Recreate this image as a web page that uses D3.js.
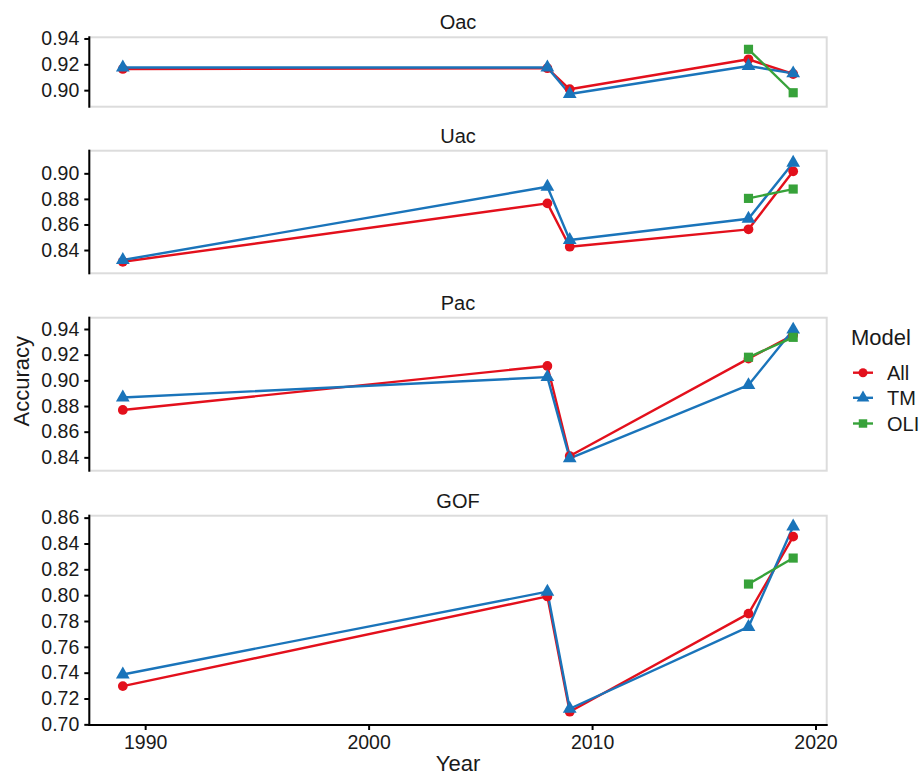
<!DOCTYPE html>
<html>
<head>
<meta charset="utf-8">
<script src="https://cdn.jsdelivr.net/npm/d3@7"></script>
<style>
  html, body { margin: 0; padding: 0; background: #fff; }
  svg { display: block; font-family: "Liberation Sans", Arial, Helvetica, sans-serif; }
</style>
</head>
<body>
<svg id="chart" width="921" height="777"></svg>
<script>
// Observation years shared by all accuracy metrics
const years = [1989, 2008, 2009, 2017, 2019];
const oliYears = [2017, 2019];

// Facet names, top to bottom
const metrics = ["Oac", "Uac", "Pac", "GOF"];

// Accuracy per metric and model
const oacAll = [0.9164, 0.9170, 0.9007, 0.9239, 0.9125];
const oacTM  = [0.9175, 0.9175, 0.8970, 0.9187, 0.9130];
const oacOLI = [0.9316, 0.8980];

const uacAll = [0.8308, 0.8765, 0.8426, 0.8562, 0.9016];
const uacTM  = [0.8322, 0.8895, 0.8478, 0.8645, 0.9083];
const uacOLI = [0.8804, 0.8877];

const pacAll = [0.8769, 0.9112, 0.8410, 0.9169, 0.9353];
const pacTM  = [0.8866, 0.9025, 0.8392, 0.8963, 0.9395];
const pacOLI = [0.9180, 0.9335];

const gofAll = [0.7296, 0.7990, 0.7098, 0.7857, 0.8453];
const gofTM  = [0.7386, 0.8027, 0.7121, 0.7754, 0.8531];
const gofOLI = [0.8086, 0.8287];

// Free y ranges per facet and their tick labels
const yDomains = [[0.8872, 0.9409], [0.8218, 0.9177], [0.8296, 0.9488], [0.6995, 0.8615]];
const yTicks = [
  [0.90, 0.92, 0.94],
  [0.84, 0.86, 0.88, 0.90],
  [0.84, 0.86, 0.88, 0.90, 0.92, 0.94],
  [0.70, 0.72, 0.74, 0.76, 0.78, 0.80, 0.82, 0.84, 0.86]
];
const xDomain = [1987.5, 2020.5];
const xTicks = [1990, 2000, 2010, 2020];

const models = ["All", "TM", "OLI"];
const values = {
  Oac: { All: oacAll, TM: oacTM, OLI: oacOLI },
  Uac: { All: uacAll, TM: uacTM, OLI: uacOLI },
  Pac: { All: pacAll, TM: pacTM, OLI: pacOLI },
  GOF: { All: gofAll, TM: gofTM, OLI: gofOLI }
};

// ---- styling / layout ----
const colors = { All: "#E3101C", TM: "#1A74BA", OLI: "#37A23A" };
const symbols = { All: d3.symbolCircle, TM: d3.symbolTriangle, OLI: d3.symbolSquare };
const symSize = { All: 75, TM: 82, OLI: 84 };
const textColor = "#1a1a1a";

const left = 89.3, right = 826.7;
const panelBox = [[37.3, 106.7], [150.7, 273.3], [317.7, 470.7], [515.7, 725]];

const svg = d3.select("#chart");
const x = d3.scaleLinear().domain(xDomain).range([left, right]);

const line = d3.line();

metrics.forEach((m, i) => {
  const [top, bottom] = panelBox[i];
  const y = d3.scaleLinear().domain(yDomains[i]).range([bottom, top]);
  const g = svg.append("g");

  // panel border
  g.append("rect")
    .attr("x", left).attr("y", top)
    .attr("width", right - left).attr("height", bottom - top)
    .attr("fill", "#fff")
    .attr("stroke", "#DCDCDC").attr("stroke-width", 2);

  // strip label
  g.append("text")
    .attr("x", (left + right) / 2).attr("y", top - 15)
    .attr("text-anchor", "middle").attr("dominant-baseline", "central")
    .attr("font-size", 20).attr("fill", textColor)
    .text(m);

  // series
  const series = models.map(mod => {
    const ys = values[m][mod];
    const xs = mod === "OLI" ? oliYears : years;
    return { mod, pts: xs.map((yr, k) => [yr, ys[k]]) };
  });

  series.forEach(s => {
    g.append("path")
      .attr("d", line(s.pts.map(p => [x(p[0]), y(p[1])])))
      .attr("fill", "none")
      .attr("stroke", colors[s.mod])
      .attr("stroke-width", 2.4)
      .attr("stroke-linejoin", "round");
  });
  series.forEach(s => {
    g.selectAll(null).data(s.pts).join("path")
      .attr("transform", p => `translate(${x(p[0])},${y(p[1])})`)
      .attr("d", d3.symbol(symbols[s.mod], symSize[s.mod])())
      .attr("fill", colors[s.mod]);
  });

  // left axis
  const ax = g.append("g")
    .attr("transform", `translate(${left},0)`)
    .call(d3.axisLeft(y).tickValues(yTicks[i]).tickFormat(d3.format(".2f")).tickSize(5).tickPadding(5));
  ax.select(".domain").attr("d", `M0,${top - 1}V${bottom + 1}`).attr("stroke", "#000").attr("stroke-width", 2);
  ax.selectAll(".tick line").attr("stroke", "#000").attr("stroke-width", 2);
  ax.selectAll(".tick text").attr("font-size", 19.5).attr("fill", textColor)
    .attr("font-family", "Liberation Sans, Arial, sans-serif");

  // bottom axis on the last panel
  if (i === metrics.length - 1) {
    const bx = g.append("g")
      .attr("transform", `translate(0,${bottom})`)
      .call(d3.axisBottom(x).tickValues(xTicks).tickFormat(d3.format("d")).tickSize(5).tickPadding(5));
    bx.select(".domain").attr("d", `M${left - 1},0H${right + 1}`).attr("stroke", "#000").attr("stroke-width", 2);
    bx.selectAll(".tick line").attr("stroke", "#000").attr("stroke-width", 2);
    bx.selectAll(".tick text").attr("font-size", 19.5).attr("fill", textColor)
      .attr("font-family", "Liberation Sans, Arial, sans-serif");
  }
});

// axis titles
svg.append("text")
  .attr("x", (left + right) / 2).attr("y", 771)
  .attr("text-anchor", "middle")
  .attr("font-size", 22).attr("fill", textColor)
  .text("Year");

svg.append("text")
  .attr("transform", `translate(29,${(panelBox[0][0] + panelBox[3][1]) / 2}) rotate(-90)`)
  .attr("text-anchor", "middle")
  .attr("font-size", 22).attr("fill", textColor)
  .text("Accuracy");

// legend
const lg = svg.append("g").attr("transform", "translate(851,0)");
lg.append("text").attr("x", 0).attr("y", 345)
  .attr("font-size", 22).attr("fill", textColor).text("Model");
const keyY = [372.7, 397.8, 423.5];
models.forEach((mod, k) => {
  const row = lg.append("g").attr("transform", `translate(0,${keyY[k]})`);
  row.append("line").attr("x1", 2).attr("x2", 22).attr("y1", 0).attr("y2", 0)
    .attr("stroke", colors[mod]).attr("stroke-width", 2.4);
  row.append("path").attr("transform", "translate(12,0)")
    .attr("d", d3.symbol(symbols[mod], symSize[mod] * 0.85)())
    .attr("fill", colors[mod]);
  row.append("text").attr("x", 36).attr("y", 0)
    .attr("dominant-baseline", "central")
    .attr("font-size", 20).attr("fill", textColor).text(mod);
});
</script>
</body>
</html>
